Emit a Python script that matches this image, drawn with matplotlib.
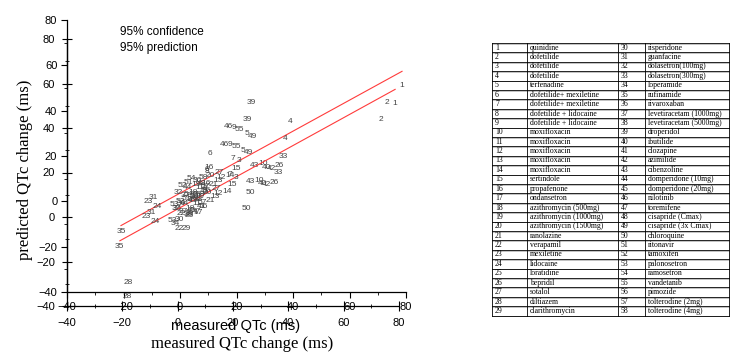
import numpy as np
import matplotlib
matplotlib.use('Agg')
import matplotlib.pyplot as plt
from matplotlib.ticker import MultipleLocator


# drug numbers and their measured / predicted QTc change (ms)
drug_id = [1, 2, 3, 4, 5, 6, 7, 8, 9, 10,
           11, 12, 13, 14, 15, 16, 17, 18, 19, 20,
           21, 22, 23, 24, 25, 26, 27, 28, 29, 30,
           31, 32, 33, 34, 35, 36, 37, 38, 39, 40,
           41, 42, 43, 44, 45, 46, 47, 48, 49, 50,
           51, 52, 53, 54, 55, 56, 57, 58]
measured = [78.6, 73.3, 20.9, 38.9, 23.7, 10.6, 18.8, 9.7, 19.0, 29.4,
            7.0, 14.5, 13.5, 17.7, 19.8, 10.3, 7.4, 4.5, 5.5, 10.6,
            11.7, 0.4, -11.3, -8.1, 4.2, 35.0, 13.8, -18.4, 3.2, 0.5,
            -9.6, -0.5, 36.5, -1.0, -20.9, 6.0, 2.0, 4.0, 25.1, 30.5,
            8.5, 32.2, 26.2, 2.5, 5.0, 17.0, 6.7, 7.5, 25.5, 24.8,
            3.0, 1.0, -2.0, 4.0, 21.2, 9.2, 9.0, 8.1]
predicted = [50.9, 43.8, 17.8, 35.4, 30.1, 21.3, 19.1, 13.0, 32.5, 16.5,
             6.0, 10.5, 9.4, 11.6, 14.7, 15.1, 2.0, 4.0, 7.5, 11.2,
             7.6, -5.2, 0.1, -2.1, 0.6, 15.6, 12.9, -35.6, -5.2, -1.0,
             1.9, 4.0, 20.0, -3.0, -13.1, 9.0, 2.5, 1.0, 43.8, 15.0,
             4.5, 14.7, 16.0, 6.0, 3.0, 32.8, 2.3, 8.0, 28.8, 3.7,
             8.5, 7.0, -1.5, 10.0, 31.5, 4.6, 6.5, 10.3]

# fitted line
fit_slope = 0.684
fit_intercept = 3.6

ticks = [-40, -20, 0, 20, 40, 60, 80]

# drug table (number, name) in two halves
tab_left_id = list(range(1, 30))
tab_left_name = ['quinidine', 'dofetilide', 'dofetilide', 'dofetilide', 'terfenadine',
                 'dofetilide+ mexiletine', 'dofetilide+ mexiletine', 'dofetilide + lidocaine',
                 'dofetilide + lidocaine', 'moxifloxacin', 'moxifloxacin', 'moxifloxacin',
                 'moxifloxacin', 'moxifloxacin', 'sertindole', 'propafenone', 'ondansetron',
                 'azithromycin (500mg)', 'azithromycin (1000mg)', 'azithromycin (1500mg)',
                 'ranolazine', 'verapamil', 'mexiletine', 'lidocaine', 'loratidine',
                 'bepridil', 'sotalol', 'diltiazem', 'clarithromycin']
tab_right_id = list(range(30, 59))
tab_right_name = ['risperidone', 'guanfacine', 'dolasetron(100mg)', 'dolasetron(300mg)',
                  'loperamide', 'rufinamide', 'rivaroxaban', 'levetiracetam (1000mg)',
                  'levetiracetam (5000mg)', 'droperidol', 'ibutilide', 'clozapine',
                  'azimilide', 'cibenzoline', 'domperidone (10mg)', 'domperidone (20mg)',
                  'nilotinib', 'toremifene', 'cisapride (Cmax)', 'cisapride (3x Cmax)',
                  'chloroquine', 'ritonavir', 'tamoxifen', 'palonosetron', 'ramosetron',
                  'vandetanib', 'pimozide', 'tolterodine (2mg)', 'tolterodine (4mg)']

plt.rcParams['font.family'] = ['Liberation Sans', 'DejaVu Sans']

W, H = 750, 360
fig = plt.figure(figsize=(7.5, 3.6), dpi=100)


def px_rect(x0, y_top, x1, y_bot):
    # pixel box (from top-left) -> figure fraction rect
    return [x0 / W, (H - y_bot) / H, (x1 - x0) / W, (y_bot - y_top) / H]


# two overlaid copies of the same scatter, the second shifted down
ax1 = fig.add_axes(px_rect(67, 20, 406, 292))
ax2 = fig.add_axes(px_rect(67, 39, 399, 306))
ax2.patch.set_visible(False)

xs = np.array([min(measured), max(measured)])
for ax, tdir, tlen, tpad in [(ax1, 'out', 4, 3), (ax2, 'inout', 7, 5)]:
    for i, x, y in zip(drug_id, measured, predicted):
        ax.text(x, y, str(i), ha='center', va='center', fontsize=6,
                color='#444444', clip_on=False)
    ax.plot(xs, fit_intercept + fit_slope * xs, color='#ff3b3b', lw=0.8)
    ax.set_xlim(-40, 80)
    ax.set_ylim(-40, 80)
    ax.set_xticks(ticks)
    ax.set_yticks(ticks)
    ax.xaxis.set_minor_locator(MultipleLocator(10))
    ax.yaxis.set_minor_locator(MultipleLocator(10))
    ax.spines[['top', 'right']].set_visible(False)
    ax.spines[['left', 'bottom']].set_linewidth(0.9)
    ax.tick_params(which='major', direction=tdir, length=tlen, width=0.8,
                   labelsize=8, pad=tpad)
    ax.tick_params(which='minor', direction=tdir, length=tlen / 2, width=0.6)

fig.text(120 / W, (H - 32) / H, '95% confidence', fontsize=8.5, va='center')
fig.text(120 / W, (H - 48) / H, '95% prediction', fontsize=8.5, va='center')

fig.text(25 / W, (H - 170) / H, 'predicted QTc change (ms)', rotation=90,
         ha='center', va='center', fontsize=12, family='Liberation Serif')
fig.text(236 / W, (H - 326) / H, 'measured QTc (ms)', ha='center', va='center',
         fontsize=10.5)
fig.text(242 / W, (H - 344) / H, 'measured QTc change (ms)', ha='center',
         va='center', fontsize=12, family='Liberation Serif')

# drug table, drawn in pixel coordinates
tab = fig.add_axes([0, 0, 1, 1])
tab.set_xlim(0, W)
tab.set_ylim(H, 0)
tab.axis('off')
tab.patch.set_visible(False)
col_x = [492, 527, 618, 645, 729]
top, row_h = 43, 9.4
n_rows = len(tab_left_id)
bot = top + n_rows * row_h
for k in range(n_rows + 1):
    tab.plot([col_x[0], col_x[-1]], [top + k * row_h + 0.8] * 2, color='#aaaaaa', lw=0.5)
    tab.plot([col_x[0], col_x[-1]], [top + k * row_h] * 2, color='black', lw=0.6)
for cx in col_x:
    tab.plot([cx, cx], [top, bot], color='black', lw=0.6)
for k in range(n_rows):
    yc = top + (k + 0.5) * row_h
    cells = [tab_left_id[k], tab_left_name[k], tab_right_id[k], tab_right_name[k]]
    for cx, txt in zip(col_x[:4], cells):
        tab.text(cx + 3, yc, str(txt), fontsize=5.6, va='center', ha='left',
                 family='Liberation Serif')

fig.savefig('out.png', dpi=100)
